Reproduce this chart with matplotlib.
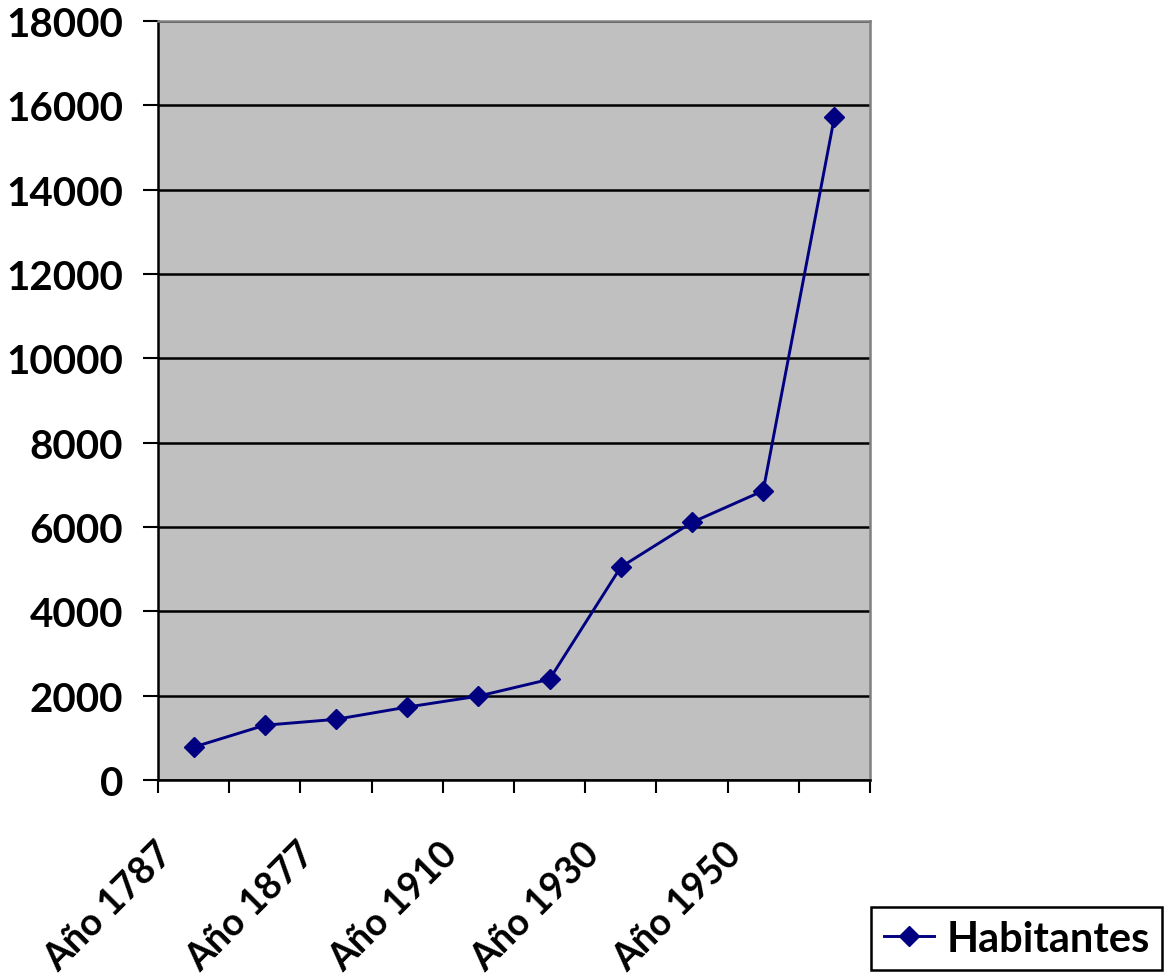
import numpy as np
import matplotlib.pyplot as plt
from matplotlib.transforms import ScaledTranslation

plt.rcParams['font.family'] = ['Lato', 'DejaVu Sans']
plt.rcParams['font.weight'] = 'bold'

# data
x_labels = ["Año 1787", "", "Año 1877", "", "Año 1910", "", "Año 1930", "", "Año 1950", ""]
habitantes = [780, 1300, 1440, 1730, 1990, 2390, 5050, 6110, 6860, 15720]
y_ticks = [0, 2000, 4000, 6000, 8000, 10000, 12000, 14000, 16000, 18000]

fig = plt.figure(figsize=(11.64, 9.79), dpi=100)
ax = fig.add_axes([0.1357, 0.2022, 0.6117, 0.7753])
ax.set_facecolor("#C0C0C0")

x = np.arange(len(habitantes))
ax.plot(x, habitantes, color="#000080", lw=2.1, marker="D", markersize=10,
        label="Habitantes", zorder=3)

ax.set_xlim(-0.5, len(habitantes) - 0.5)
ax.set_ylim(0, 18000)
ax.set_yticks(y_ticks)
ax.set_yticklabels([str(v) for v in y_ticks], fontsize=29, fontweight="bold")
ax.grid(axis="y", color="black", lw=1.8)
ax.set_axisbelow(True)

# tick marks between categories
ax.set_xticks(np.arange(-0.5, len(habitantes)))
ax.set_xticklabels([])
ax.tick_params(axis="x", length=9, width=1.5, color="black")
ax.tick_params(axis="y", length=11, width=1.5, pad=14)

# category labels, every other one, rotated 45 degrees
off = ScaledTranslation(-0.39, -0.56, fig.dpi_scale_trans)
for i, lab in enumerate(x_labels):
    if lab:
        ax.text(i, 0, lab, transform=ax.get_xaxis_transform() + off,
                rotation=45, rotation_mode="anchor", ha="right", va="top",
                fontsize=27, fontweight="bold")

for s in ["left", "bottom"]:
    ax.spines[s].set_color("black")
    ax.spines[s].set_linewidth(1.8)
for s in ["top", "right"]:
    ax.spines[s].set_color("#808080")
    ax.spines[s].set_linewidth(1.8)

leg = fig.legend(loc="lower right", bbox_to_anchor=(0.9985, 0.008),
                 prop={"weight": "bold", "size": 30},
                 fancybox=False, framealpha=1, edgecolor="black",
                 handlelength=1.2, borderpad=0.3, handletextpad=0.3,
                 borderaxespad=0.0)
leg.get_frame().set_linewidth(1.8)

fig.savefig("out.png", dpi=100)
